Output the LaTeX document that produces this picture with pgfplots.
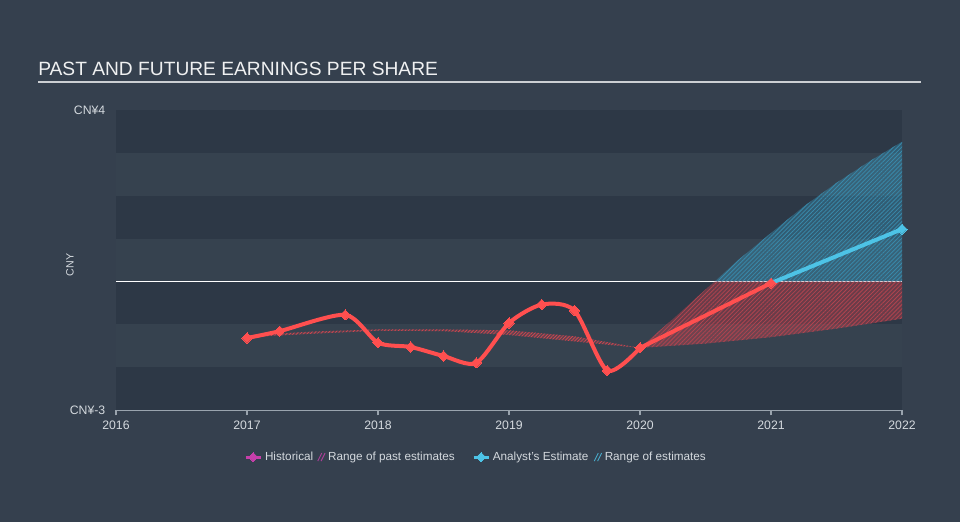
\documentclass[border=0pt]{standalone}
\usepackage{pgfplots}
\pgfplotsset{compat=1.18}
\usepackage{fontspec}
\setmainfont{Liberation Sans}
\usetikzlibrary{patterns.meta}
\definecolor{bg}{HTML}{35404E}
\definecolor{banddark}{HTML}{2D3846}
\definecolor{bandlight}{HTML}{36424F}
\definecolor{histred}{HTML}{FF4F4F}
\definecolor{estblue}{HTML}{4DC3E6}
\definecolor{legmag}{HTML}{C63FAA}
\definecolor{txt}{HTML}{D4D9DE}
\definecolor{axgray}{HTML}{9AA4AE}
\definecolor{redfill}{HTML}{D9464F}
\definecolor{bluefill}{HTML}{3AA2C9}
\begin{document}
\begin{tikzpicture}
\fill[bg] (0,0) rectangle (720pt,391.5pt);
\node[anchor=base west, inner sep=0pt, text=white!92!bg, font=\fontsize{14.4pt}{16pt}\selectfont] at (28.5pt,334.5pt) {PAST AND FUTURE EARNINGS PER SHARE};
\draw[line width=0.9pt, color=white!75!bg] (28.5pt,330pt) -- (690.75pt,330pt);
\begin{axis}[
  at={(87pt,84pt)}, anchor=south west,
  scale only axis, width=589.5pt, height=225pt,
  xmin=2016, xmax=2022, ymin=-3, ymax=4,
  clip=false,
  axis x line*=bottom, axis y line*=left,
  y axis line style={draw=none},
  x axis line style={draw=axgray, line width=0.8pt},
  xtick={2016,2017,2018,2019,2020,2021,2022},
  xticklabel style={/pgf/number format/1000 sep=, font=\fontsize{9.2pt}{10pt}\selectfont, text=txt, yshift=-1pt},
  /pgf/number format/assume math mode=true,
  xtick align=outside, major tick length=4pt,
  xtick style={draw=axgray, line width=0.8pt},
  ytick={-3,4}, yticklabels={CN¥-3,CN¥4},
  ytick style={draw=none},
  yticklabel style={font=\fontsize{9.2pt}{10pt}\selectfont, text=txt, xshift=-4.5pt},
  ylabel={CNY},
  ylabel style={at={(axis description cs:-0.0585,0.483)}, anchor=center, font=\fontsize{8pt}{9pt}\selectfont, text=txt},
  legend columns=4,
  legend style={at={(0.4585,-0.157)}, anchor=center, draw=none, fill=none,
    text=txt, font=\fontsize{8.8pt}{10pt}\selectfont,
    /tikz/column 2/.style={column sep=1pt},
    /tikz/column 4/.style={column sep=11pt},
    /tikz/column 6/.style={column sep=2pt},
    /tikz/every odd column/.append style={column sep=0pt},
  },
  legend cell align=left,
]
% bands
\fill[banddark] (axis cs:2016,3) rectangle (axis cs:2022,4);
\fill[bandlight] (axis cs:2016,2) rectangle (axis cs:2022,3);
\fill[banddark] (axis cs:2016,1) rectangle (axis cs:2022,2);
\fill[bandlight] (axis cs:2016,0) rectangle (axis cs:2022,1);
\fill[banddark] (axis cs:2016,-1) rectangle (axis cs:2022,0);
\fill[bandlight] (axis cs:2016,-2) rectangle (axis cs:2022,-1);
\fill[banddark] (axis cs:2016,-3) rectangle (axis cs:2022,-2);
\draw[white, line width=0.8pt] (axis cs:2016,0) -- (axis cs:2022,0);

% legend entries
\addlegendimage{legmag, line width=2.2pt, mark=square*, mark size=2.4pt, mark options={rotate=45, line width=0pt}, legend image code/.code={\draw[mark repeat=2,mark phase=2] plot coordinates {(0cm,0cm) (0.2cm,0cm) (0.4cm,0cm)};}}
\addlegendentry{Historical}
\addlegendimage{legend image code/.code={\draw[legmag!80!bg, line width=0.7pt] (0pt,-3pt) -- (3pt,3pt) (2.5pt,-3pt) -- (5.5pt,3pt);}}
\addlegendentry{Range of past estimates}
\addlegendimage{estblue, line width=2.2pt, mark=square*, mark size=2.4pt, mark options={rotate=45, line width=0pt}, legend image code/.code={\draw[mark repeat=2,mark phase=2] plot coordinates {(0cm,0cm) (0.2cm,0cm) (0.4cm,0cm)};}}
\addlegendentry{Analyst's Estimate}
\addlegendimage{legend image code/.code={\draw[estblue!80!bg, line width=0.7pt] (0pt,-3pt) -- (3pt,3pt) (2.5pt,-3pt) -- (5.5pt,3pt);}}
\addlegendentry{Range of estimates}

% past estimates range
\addplot[draw=none, fill=redfill, fill opacity=0.25, postaction={pattern={Lines[angle=45,distance=1.8pt,line width=0.5pt]}, pattern color=redfill}, forget plot] coordinates {
(2017,-1.26) (2017.5,-1.17) (2018,-1.12) (2018.5,-1.12) (2019,-1.14) (2019.5,-1.28) (2020,-1.55)
(2019.5,-1.40) (2019,-1.25) (2018.5,-1.16) (2018,-1.15) (2017.5,-1.22) (2017,-1.30)} -- cycle;

% future range (below zero, red)
\addplot[draw=none, fill=redfill, fill opacity=0.35, postaction={pattern={Lines[angle=45,distance=2.2pt,line width=0.6pt]}, pattern color=redfill!75!bg}, forget plot] coordinates {
(2020,-1.55) (2020.25,-0.88) (2020.57,0) (2022,0) (2022,-0.87) (2021.5,-1.10) (2021,-1.30) (2020.5,-1.45)} -- cycle;

% future range (above zero, blue)
\addplot[draw=none, fill=bluefill, fill opacity=0.35, postaction={pattern={Lines[angle=45,distance=2.2pt,line width=0.6pt]}, pattern color=bluefill!75!bg}, forget plot] coordinates {
(2020.57,0) (2020.75,0.5) (2021,1.13) (2021.25,1.75) (2021.5,2.3) (2021.75,2.8) (2022,3.26) (2022,0)} -- cycle;

% historical
\addplot[histred, line width=3pt, smooth, tension=0.45, mark=square*, mark size=2.7pt, mark options={rotate=45, line width=0pt}, forget plot] coordinates {
(2017,-1.32) (2017.25,-1.16) (2017.75,-0.78) (2018,-1.43) (2018.25,-1.53) (2018.5,-1.74) (2018.75,-1.90) (2019,-0.97) (2019.25,-0.54) (2019.5,-0.68) (2019.75,-2.08) (2020,-1.55)};
\addplot[histred, line width=3pt, mark=square*, mark size=2.7pt, mark options={rotate=45, line width=0pt}, forget plot] coordinates {
(2020,-1.55) (2021,-0.04)};
% analyst estimate
\addplot[estblue, line width=3pt, mark=square*, mark size=2.7pt, mark indices={2}, mark options={rotate=45, line width=0pt}, forget plot] coordinates {
(2021,-0.04) (2022,1.22)};
\end{axis}
\end{tikzpicture}
\end{document}
